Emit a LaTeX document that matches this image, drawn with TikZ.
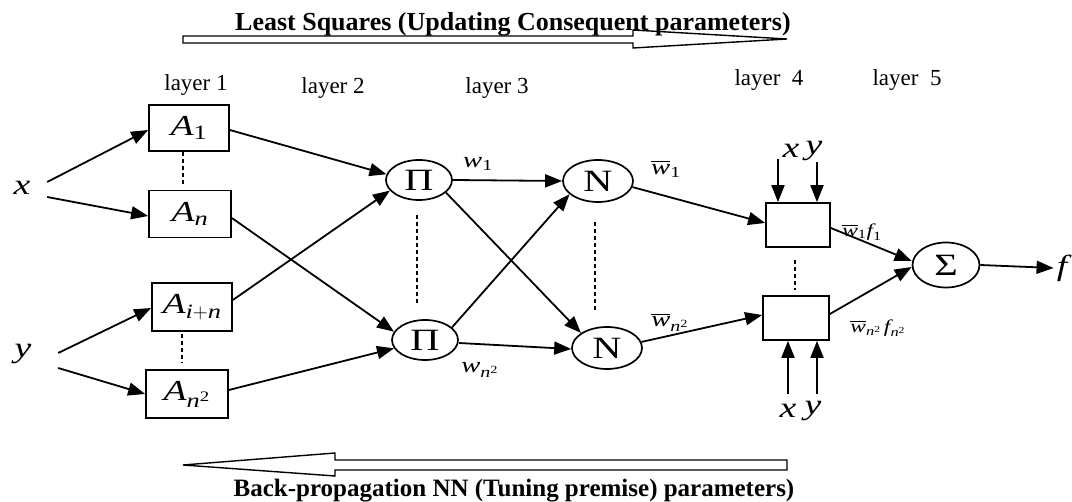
\documentclass[tikz,border=0pt]{standalone}
\usepackage{fontspec}
\usepackage{amsmath}
\setmainfont{Liberation Serif}
\newfontfamily\dfont[FakeStretch=1.3]{Liberation Serif}
\usetikzlibrary{arrows.meta,shapes.geometric}
\begin{document}
\begin{tikzpicture}[x=1pt,y=-1pt,
 arr/.style={line width=1.8pt,-{Triangle[length=17pt,width=13pt]}},
 box/.style={draw,line width=1.7pt,minimum width=80pt,minimum height=46pt,inner sep=0pt,font=\dfont\fontsize{29}{31}\selectfont},
 ell/.style={draw,ellipse,line width=1.7pt,minimum width=66pt,minimum height=40pt,inner sep=0pt,font=\dfont\fontsize{31}{33}\selectfont},
 sep/.style={line width=1.7pt,dash pattern=on 4pt off 3pt},
 lay/.style={font=\fontsize{23}{25}\selectfont},
 lab/.style={font=\dfont\fontsize{29}{31}\selectfont\itshape,inner sep=0pt},
 wl/.style={font=\dfont\fontsize{22}{24}\selectfont,inner sep=0pt},
 wf/.style={font=\dfont\fontsize{18}{20}\selectfont,inner sep=0pt},
 hollow/.style={draw,line width=1.4pt},
 banner/.style={font=\bfseries,anchor=base,inner sep=0pt}]
\useasboundingbox (0,0) rectangle (1072,502);

% big arrows
\draw[hollow] (183,36) -- (633,36) -- (633,30) -- (787,39) -- (633,48) -- (633,43) -- (183,43) -- cycle;
\draw[hollow] (183,465) -- (335,453) -- (335,460) -- (787,460) -- (787,470) -- (335,470) -- (335,476) -- cycle;
\node[banner,font=\fontsize{26}{30}\selectfont\bfseries] (t1) at (513,31) {Least Squares (Updating Consequent parameters)};
\node[banner,font=\fontsize{25}{30}\selectfont\bfseries] (t2) at (514,497) {Back-propagation NN (Tuning premise) parameters)};

% layer labels
\node[lay] (L1) at (196,85) {layer 1};
\node[lay] (L2) at (333,88) {layer 2};
\node[lay] (L3) at (497,88) {layer 3};
\node[lay] (L4) at (769,80) {layer\ \ 4};
\node[lay] (L5) at (907,80) {layer\ \ 5};

% layer 1
\node[box] (A1) at (189,128) {$\textit{A}_{\textup{1}}$};
\node[box,minimum width=82pt,minimum height=47pt] (An) at (190,214) {$\textit{A}_{\textit{n}}$};
\node[box,minimum height=48pt] (Ain) at (192,307) {$\textit{A}_{\textit{i}+\textit{n}}$};
\node[box,minimum width=82pt,minimum height=48pt] (An2) at (187,394) {$\textit{A}_{\textit{n}^{\textup{2}}}$};

% layers 2-5
\node[ell] (P1) at (419,180) {Π};
\node[ell] (P2) at (425,340) {Π};
\node[ell,minimum width=70pt,minimum height=42pt] (N1) at (598,181) {N};
\node[ell,minimum width=70pt,minimum height=42pt] (N2) at (607,348) {N};
\node[box,minimum width=64pt,minimum height=44pt] (B1) at (798,225) {};
\node[box,minimum width=66pt,minimum height=44pt] (B2) at (796,318) {};
\node[ell,minimum width=67pt,minimum height=45pt] (S) at (946,265) {Σ};

% inputs / output
\node[lab,minimum width=50pt] (xl) at (22,188) {x};
\node[lab,minimum width=70pt] (yl) at (23,354) {y};
\node[lab] (fl) at (1062,268) {f};
\node[lab] (xt) at (791,151) {x};
\node[lab] (yt) at (814,151) {y};
\node[lab] (xb) at (788,411) {x};
\node[lab] (yb) at (813,411) {y};

% weight labels
\node[wl] (w1) at (478,164) {$\textit{w}_{\textup{1}}$};
\node[wl] (wn) at (480,370) {$\textit{w}_{\textit{n}^{\textup{2}}}$};
\node[wl] (wb1) at (666,169) {$\overline{\textit{w}}_{\textup{1}}$};
\node[wl] (wbn) at (670,322) {$\overline{\textit{w}}_{\textit{n}^{\textup{2}}}$};
\node[wf] (wf1) at (862,232) {$\overline{\textit{w}}_{\textup{1}}\textit{f}_{\textup{1}}$};
\node[wf] (wfn) at (878,328) {$\overline{\textit{w}}_{\textit{n}^{\textup{2}}}\,\textit{f}_{\textit{n}^{\textup{2}}}$};

% connectors
\draw[arr] ([yshift=6pt]xl.east) -- ([yshift=-2pt]A1.west);
\draw[arr] ([yshift=-9pt]xl.east) -- ([yshift=-2pt]An.west);
\draw[arr] ([yshift=1pt]yl.east) -- ([yshift=-1pt]Ain.west);
\draw[arr] ([yshift=-14pt]yl.east) -- (An2.west);

\draw[arr] ([yshift=-2pt]A1.east) -- (P1.170);
\draw[arr] ([yshift=-4pt]An.east) -- (P2.165);
\draw[arr] ([yshift=7pt]Ain.east) -- (P1.200);
\draw[arr] ([yshift=4pt]An2.east) -- (P2.195);

\draw[arr] (P1.east) -- (N1.west);
\draw[arr] (P1.-25) -- (N2.150);
\draw[arr] (P2.25) -- (N1.205);
\draw[arr] ([yshift=-3pt]P2.east) -- ([yshift=-1pt]N2.west);

\draw[arr] (N1.-10) -- ([yshift=2pt]B1.west);
\draw[arr] (N2.10) -- ([yshift=3pt]B2.west);

\draw[arr] ([xshift=-20pt,yshift=43pt]B1.north) -- ([xshift=-20pt]B1.north);
\draw[arr] ([xshift=19pt,yshift=40pt]B1.north) -- ([xshift=19pt]B1.north);
\draw[arr] ([xshift=-8pt,yshift=-53pt]B2.south) -- ([xshift=-8pt]B2.south);
\draw[arr] ([xshift=21pt,yshift=-53pt]B2.south) -- ([xshift=21pt]B2.south);

\draw[arr] ([yshift=-3pt]B1.east) -- ([yshift=4pt]S.west);
\draw[arr] ([yshift=4pt]B2.east) -- ([yshift=-2pt]S.west);
\draw[arr] (S.east) -- ([xshift=-3pt]fl.west);

% dotted separators
\draw[sep,shorten >=5pt] ([xshift=-6pt]A1.south) -- ([xshift=-7pt]An.north);
\draw[sep,shorten <=2pt,shorten >=6pt] ([xshift=-10pt]Ain.south) -- ([xshift=-5pt]An2.north);
\draw[sep] (417,215) -- (417,305);
\draw[sep] (595,222) -- (595,312);
\draw[sep] (795,260) -- (795,290);
\end{tikzpicture}
\end{document}
